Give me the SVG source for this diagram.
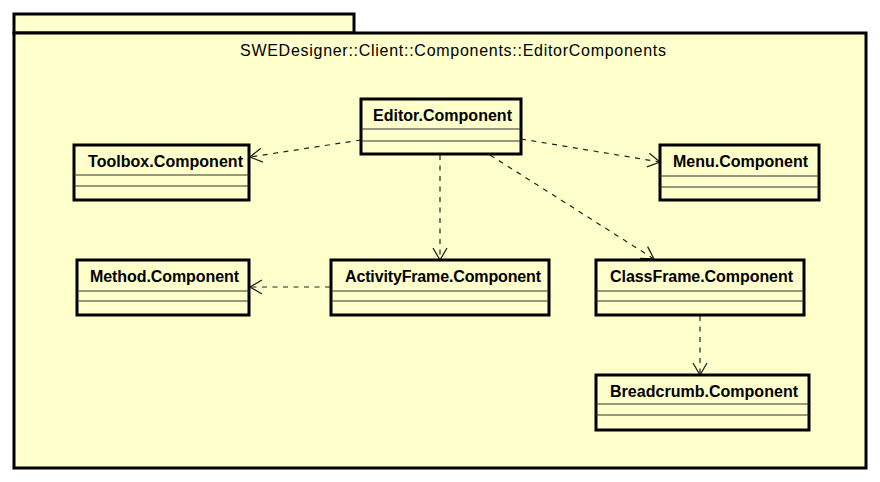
<svg xmlns="http://www.w3.org/2000/svg" width="880" height="482" viewBox="0 0 880 482">
<style>
.pkg{fill:#FFFFCC;stroke:#000;stroke-width:3}
.box{fill:#FFFFCC;stroke:#000;stroke-width:3}
.sep{stroke:#333;stroke-width:1.2}
.lbl{font-family:"Liberation Sans",Arial,sans-serif;font-size:16px;font-weight:bold;fill:#000}
.title{font-family:"Liberation Sans",Arial,sans-serif;font-size:16px;fill:#000}
.dep{fill:none;stroke:#222;stroke-width:1.2;stroke-dasharray:5,5.5}
.head{fill:none;stroke:#222;stroke-width:1.3}
</style>
<defs>
<marker id="open" markerWidth="16" markerHeight="18" refX="13" refY="8" orient="auto" markerUnits="userSpaceOnUse">
<path class="head" d="M1,1 L13,8 L1,15"/>
</marker>
</defs>
<rect width="880" height="482" fill="#fff"/>
<g id="package">
<rect class="pkg" x="14" y="14" width="340" height="19"/>
<rect class="pkg" x="14" y="33" width="852" height="435"/>
<text class="title" x="240" y="56" textLength="426" lengthAdjust="spacing">SWEDesigner::Client::Components::EditorComponents</text>
</g>
<g id="connectors">
<line class="dep" x1="361" y1="140" x2="250" y2="157" marker-end="url(#open)"/>
<line class="dep" x1="521" y1="139" x2="660" y2="162" marker-end="url(#open)"/>
<line class="dep" x1="440" y1="155" x2="440" y2="260" marker-end="url(#open)"/>
<line class="dep" x1="490" y1="155" x2="654" y2="259" marker-end="url(#open)"/>
<line class="dep" x1="330" y1="287" x2="250" y2="287" marker-end="url(#open)"/>
<line class="dep" x1="700" y1="316" x2="700" y2="375" marker-end="url(#open)"/>
</g>
<g id="editor">
<rect class="box" x="361" y="99" width="160" height="55"/>
<line class="sep" x1="361" y1="129" x2="521" y2="129"/>
<line class="sep" x1="361" y1="141" x2="521" y2="141"/>
<text class="lbl" x="373" y="121" textLength="139" lengthAdjust="spacing">Editor.Component</text>
</g>
<g id="toolbox">
<rect class="box" x="74" y="145" width="175" height="55"/>
<line class="sep" x1="74" y1="175" x2="249" y2="175"/>
<line class="sep" x1="74" y1="186" x2="249" y2="186"/>
<text class="lbl" x="88" y="167" textLength="155" lengthAdjust="spacing">Toolbox.Component</text>
</g>
<g id="menu">
<rect class="box" x="660" y="145" width="159" height="55"/>
<line class="sep" x1="660" y1="176" x2="819" y2="176"/>
<line class="sep" x1="660" y1="187" x2="819" y2="187"/>
<text class="lbl" x="673" y="167" textLength="135" lengthAdjust="spacing">Menu.Component</text>
</g>
<g id="method">
<rect class="box" x="77" y="260" width="172" height="55"/>
<line class="sep" x1="77" y1="291" x2="249" y2="291"/>
<line class="sep" x1="77" y1="301" x2="249" y2="301"/>
<text class="lbl" x="90" y="282" textLength="149" lengthAdjust="spacing">Method.Component</text>
</g>
<g id="activityframe">
<rect class="box" x="331" y="260" width="218" height="55"/>
<line class="sep" x1="331" y1="291" x2="549" y2="291"/>
<line class="sep" x1="331" y1="301" x2="549" y2="301"/>
<text class="lbl" x="345" y="282" textLength="196" lengthAdjust="spacing">ActivityFrame.Component</text>
</g>
<g id="classframe">
<rect class="box" x="596" y="260" width="208" height="55"/>
<line class="sep" x1="596" y1="291" x2="804" y2="291"/>
<line class="sep" x1="596" y1="301" x2="804" y2="301"/>
<text class="lbl" x="610" y="282" textLength="183" lengthAdjust="spacing">ClassFrame.Component</text>
</g>
<g id="breadcrumb">
<rect class="box" x="596" y="375" width="213" height="55"/>
<line class="sep" x1="596" y1="404" x2="809" y2="404"/>
<line class="sep" x1="596" y1="415" x2="809" y2="415"/>
<text class="lbl" x="610" y="397" textLength="188" lengthAdjust="spacing">Breadcrumb.Component</text>
</g>
</svg>
